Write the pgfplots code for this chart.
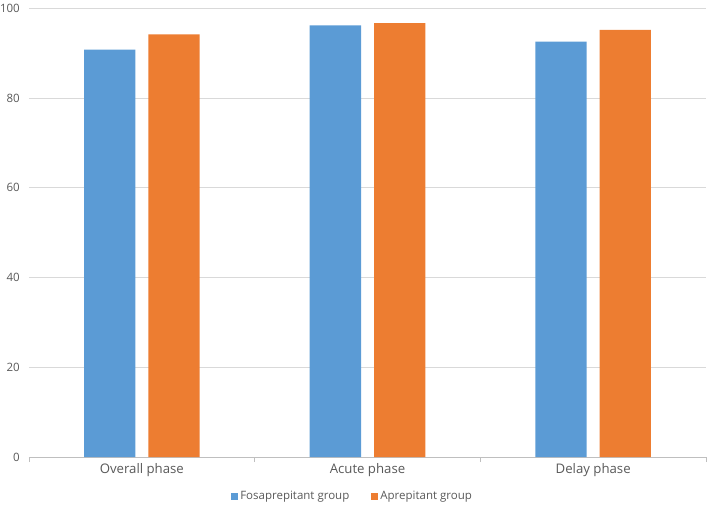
\documentclass[border=0pt]{standalone}
\usepackage{pgfplots}
\pgfplotsset{compat=1.18}
\usepackage{fontspec}
\setmainfont{Open Sans}
\definecolor{cblue}{HTML}{5B9BD5}
\definecolor{corange}{HTML}{ED7D31}
\definecolor{ctext}{HTML}{595959}
\definecolor{cgrid}{HTML}{D9D9D9}
\definecolor{caxis}{HTML}{BFBFBF}
\begin{document}
\begin{tikzpicture}
\begin{axis}[
  name=ax,
  scale only axis,
  width=677pt, height=448.7pt,
  ybar=13pt, bar width=51.3pt,
  xmin=-0.5, xmax=2.5, ymin=0, ymax=100,
  xtick={0,1,2},
  xticklabels={Overall phase, Acute phase, Delay phase},
  ytick={0,20,40,60,80,100},
  axis x line*=bottom, axis y line*=left,
  y axis line style={draw=none},
  x axis line style={draw=caxis, line width=0.8pt, -},
  ymajorgrids, grid style={draw=cgrid, line width=0.8pt},
  major tick length=0pt,
  extra x ticks={-0.5,0.5,1.5,2.5},
  extra x tick labels={},
  extra x tick style={major tick length=5pt, tick align=outside, tick style={draw=caxis, line width=0.8pt}, grid=none},
  /pgf/number format/assume math mode=true,
  yticklabel style={inner sep=0pt, xshift=-9pt, font=\fontsize{11.5}{14}\selectfont, text=ctext},
  xticklabel style={inner sep=0pt, yshift=-6pt, font=\fontsize{13.2}{15}\selectfont, text=ctext},
  legend style={at={(0.478,-0.087)}, anchor=center, draw=none, fill=none,
    legend columns=2, font=\fontsize{11.5}{14}\selectfont, text=ctext,
    /tikz/every even column/.append style={column sep=20pt},
    /tikz/every odd column/.append style={inner xsep=1pt}},
  legend image code/.code={\fill[#1] (0pt,-3.5pt) rectangle (7pt,3.5pt);},
]
\addplot[fill=cblue, draw=none] coordinates {(0,90.8) (1,96.2) (2,92.6)};
\addplot[fill=corange, draw=none] coordinates {(0,94.2) (1,96.7) (2,95.2)};
\legend{Fosaprepitant group, Aprepitant group}
\end{axis}
\pgfresetboundingbox
\path ([shift={(-29pt,-47pt)}]ax.south west) rectangle ([shift={(3pt,8.3pt)}]ax.north east);
\end{tikzpicture}
\end{document}
